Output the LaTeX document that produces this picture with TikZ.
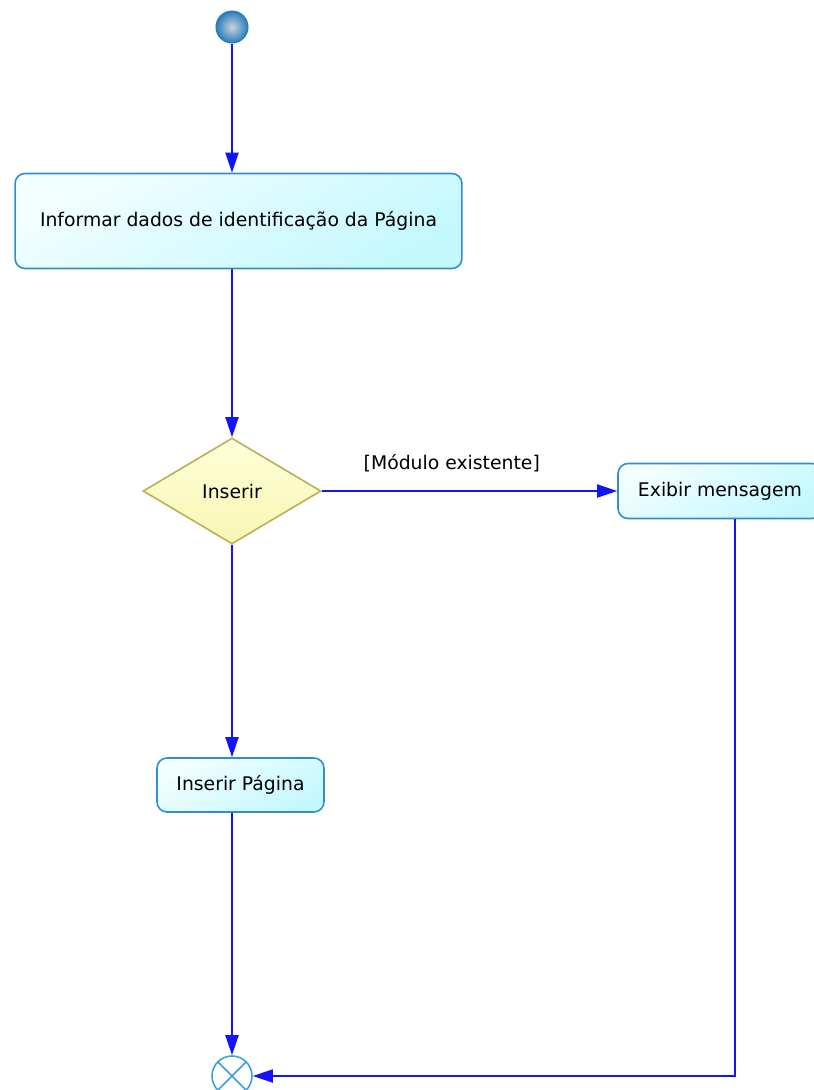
\documentclass[tikz,border=0pt]{standalone}
\usepackage{fontspec}
\setmainfont{DejaVu Sans}
\usetikzlibrary{shapes.geometric,arrows.meta}
\definecolor{flowblue}{RGB}{20,20,250}
\definecolor{boxline}{RGB}{50,140,205}
\definecolor{boxlight}{RGB}{242,254,255}
\definecolor{boxdark}{RGB}{196,248,255}
\definecolor{decline}{RGB}{185,175,85}
\definecolor{declight}{RGB}{255,255,218}
\definecolor{decdark}{RGB}{248,246,178}
\definecolor{startblue}{RGB}{40,125,190}
\definecolor{startcore}{RGB}{205,210,215}
\definecolor{endline}{RGB}{60,160,210}
\tikzset{
    action/.style = {draw = boxline, line width = 0.9pt, rounded corners = 0.2cm,
        top color = boxlight, bottom color = boxdark, shading angle = 30,
        inner sep = 0pt, align = center},
    decision/.style = {draw = decline, line width = 0.9pt, diamond, inner sep = 0pt,
        top color = declight, bottom color = decdark},
    flow/.style = {draw = flowblue, line width = 1.1pt,
        -{Triangle[width = 0.26cm, length = 0.4cm]}}
}
\begin{document}
\begin{tikzpicture}[x = 0.02cm, y = -0.02cm, font = \fontsize{10.7}{13}\selectfont]
        \useasboundingbox (0, 0) rectangle (814, 1090);
        \clip (0, 0) rectangle (814, 1090);
        \node[circle, minimum size = 0.64cm, inner sep = 0pt, draw = startblue, line width = 0.6pt,
            inner color = startcore, outer color = startblue] (start) at (232, 27) {};
        \node[action, minimum width = 8.94cm, minimum height = 1.9cm] (informar) at (238.5, 221) {Informar dados de identificação da Página};
        \node[decision, minimum width = 3.56cm, minimum height = 2.12cm] (inserir) at (232, 491) {Inserir};
        \node[action, minimum width = 4.08cm, minimum height = 1.1cm] (exibir) at (720, 491) {Exibir mensagem};
        \node[action, minimum width = 3.34cm, minimum height = 1.08cm] (pagina) at (240.5, 785) {Inserir Página};
        \node[circle, draw = endline, line width = 0.9pt, minimum size = 0.8cm, inner sep = 0pt,
            path picture = {\draw[endline, line width = 0.9pt] (path picture bounding box.north west) -- (path picture bounding box.south east)
                (path picture bounding box.north east) -- (path picture bounding box.south west);}] (fim) at (232, 1076) {};
        \draw[flow] (start) -- (informar.north -| start);
        \draw[flow] (informar.south -| inserir) -- (inserir.north);
        \draw[flow] (inserir.east) -- node[pos = 0.44, above = 7pt]{[Módulo existente]} (exibir.west);
        \draw[flow] (inserir.south) -- (pagina.north -| inserir);
        \draw[flow] (pagina.south -| fim) -- (fim);
        \draw[flow] ([xshift = 0.3cm]exibir.south) |- (fim);
\end{tikzpicture}
\end{document}
